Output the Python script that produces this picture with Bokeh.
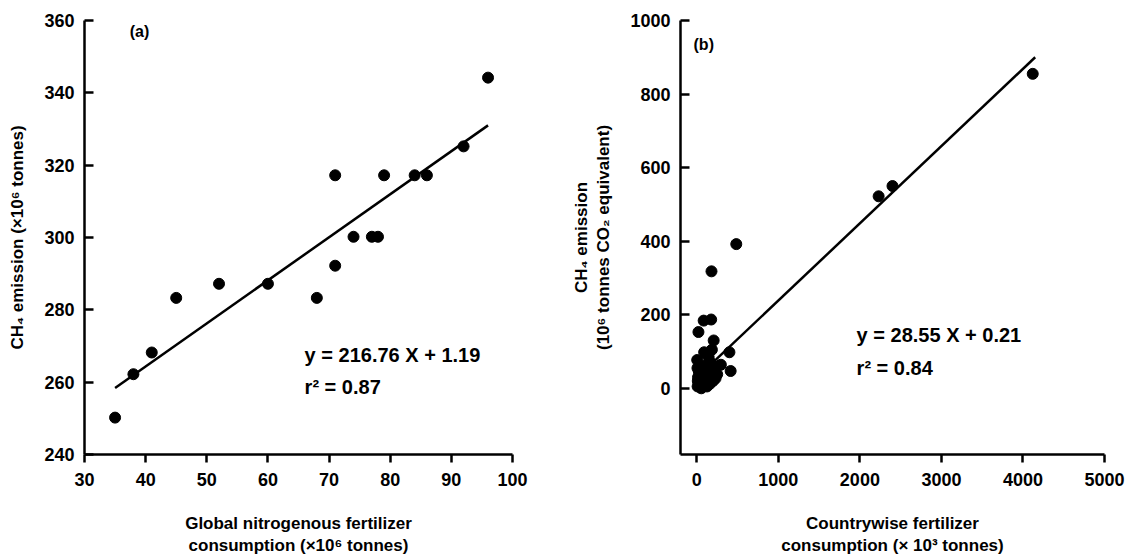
from bokeh.plotting import figure
from bokeh.layouts import row
from bokeh.models import FixedTicker, Label, Range1d
from bokeh.embed import file_html
from bokeh.resources import INLINE

FONT = "Liberation Sans"

# ---------------- Panel (a) data ----------------
a_fert = [35, 38, 41, 45, 52, 60, 68, 71, 71, 74, 77, 78, 79, 84, 86, 92, 96]
a_ch4 = [250.2, 262.2, 268.2, 283.3, 287.2, 287.2, 283.3, 292.2, 317.2, 300.2,
         300.2, 300.2, 317.2, 317.2, 317.2, 325.2, 344.2]
a_xticks = [30, 40, 50, 60, 70, 80, 90, 100]
a_yticks = [240, 260, 280, 300, 320, 340, 360]
a_intercept = 216.76
a_slope = 1.19
a_eq = "y = 216.76 X + 1.19"
a_r2 = "r² = 0.87"

# ---------------- Panel (b) data ----------------
b_fert = [4120, 2230, 2400, 484, 180, 84, 176, 20, 207, 400, 295, 415, 90, 185,
          5, 250, 230, 10, 15, 25, 30, 40, 50, 60, 70, 80, 95, 110, 120, 130, 140,
          150, 160, 170, 200, 8, 12, 35, 45, 55, 65, 75, 100, 125, 145, 165, 190, 210]
b_ch4 = [855, 522, 550, 392, 318, 184, 187, 153, 130, 98, 64, 47, 98, 105,
         77, 38, 27, 5, 30, 45, 15, 55, 20, 35, 10, 60, 25, 40, 8, 65, 30,
         50, 12, 70, 20, 55, 20, 10, 35, 0, 45, 15, 30, 5, 85, 22, 60, 45]
b_xticks = [0, 1000, 2000, 3000, 4000, 5000]
b_yticks = [0, 200, 400, 600, 800, 1000]
b_intercept = 28.55
b_slope = 0.21
b_line_x = [150, 4150]
b_eq = "y = 28.55 X + 0.21"
b_r2 = "r² = 0.84"


def style(p, xticks, yticks, xlabel, ylabel, ystandoff):
    p.toolbar.logo = None
    p.outline_line_color = None
    p.xgrid.visible = False
    p.ygrid.visible = False
    p.background_fill_color = "white"
    p.border_fill_color = "white"
    p.xaxis.ticker = FixedTicker(ticks=xticks)
    p.yaxis.ticker = FixedTicker(ticks=yticks)
    p.axis.axis_line_width = 2.5
    p.axis.axis_line_color = "black"
    p.axis.major_tick_line_width = 2.5
    p.axis.major_tick_line_color = "black"
    p.axis.minor_tick_line_color = None
    p.axis.major_label_text_font = FONT
    p.axis.major_label_text_font_style = "bold"
    p.axis.major_label_text_font_size = "18px"
    p.axis.major_label_text_color = "black"
    p.axis.axis_label_text_font = FONT
    p.axis.axis_label_text_font_style = "bold"
    p.axis.axis_label_text_font_size = "17px"
    p.axis.axis_label_text_color = "black"
    p.xaxis.major_tick_in = 0
    p.xaxis.major_tick_out = 8
    p.xaxis.major_label_standoff = 10
    p.xaxis.axis_label = xlabel
    p.xaxis.axis_label_standoff = 25
    p.yaxis.major_tick_in = 9
    p.yaxis.major_tick_out = 0
    p.yaxis.major_label_standoff = 10
    p.yaxis.axis_label = ylabel
    p.yaxis.axis_label_standoff = ystandoff


def label(p, x, y, text, size):
    p.add_layout(Label(x=x, y=y, text=text, text_font=FONT,
                       text_font_style="bold", text_font_size=size,
                       text_color="black", text_baseline="middle"))


# ---------------- Figure (a) ----------------
pa = figure(frame_width=428, frame_height=434, output_backend="svg",
            toolbar_location=None,
            x_range=Range1d(30, 100), y_range=Range1d(240, 360),
            min_border_left=84, min_border_right=46, min_border_top=20,
            min_border_bottom=60)
style(pa, a_xticks, a_yticks,
      "Global nitrogenous fertilizer\nconsumption (×10⁶ tonnes)",
      "CH₄ emission (×10⁶ tonnes)", 14)
pa.scatter(a_fert, a_ch4, size=11, color="black")
ax_line = [min(a_fert), max(a_fert)]
pa.line(ax_line, [a_intercept + a_slope * v for v in ax_line], line_width=2.5,
        color="black")
label(pa, 37.4, 357, "(a)", "16px")
label(pa, 66.0, 267.4, a_eq, "20px")
label(pa, 66.0, 258.6, a_r2, "20px")

# ---------------- Figure (b) ----------------
pb = figure(frame_width=424, frame_height=434, output_backend="svg",
            toolbar_location=None,
            x_range=Range1d(-200, 5000), y_range=Range1d(-180, 1000),
            min_border_left=122, min_border_right=25, min_border_top=20,
            min_border_bottom=60)
style(pb, b_xticks, b_yticks,
      "Countrywise fertilizer\nconsumption (× 10³ tonnes)",
      "CH₄ emission\n(10⁶ tonnes CO₂ equivalent)", 14)
pb.scatter(b_fert, b_ch4, size=11, color="black")
pb.line(b_line_x, [b_intercept + b_slope * v for v in b_line_x], line_width=2.5,
        color="black")
label(pb, -40, 935, "(b)", "16px")
label(pb, 1960, 144, b_eq, "20px")
label(pb, 1960, 54, b_r2, "20px")

layout = row(pa, pb)
open("out.html", "w").write(file_html(layout, INLINE))
